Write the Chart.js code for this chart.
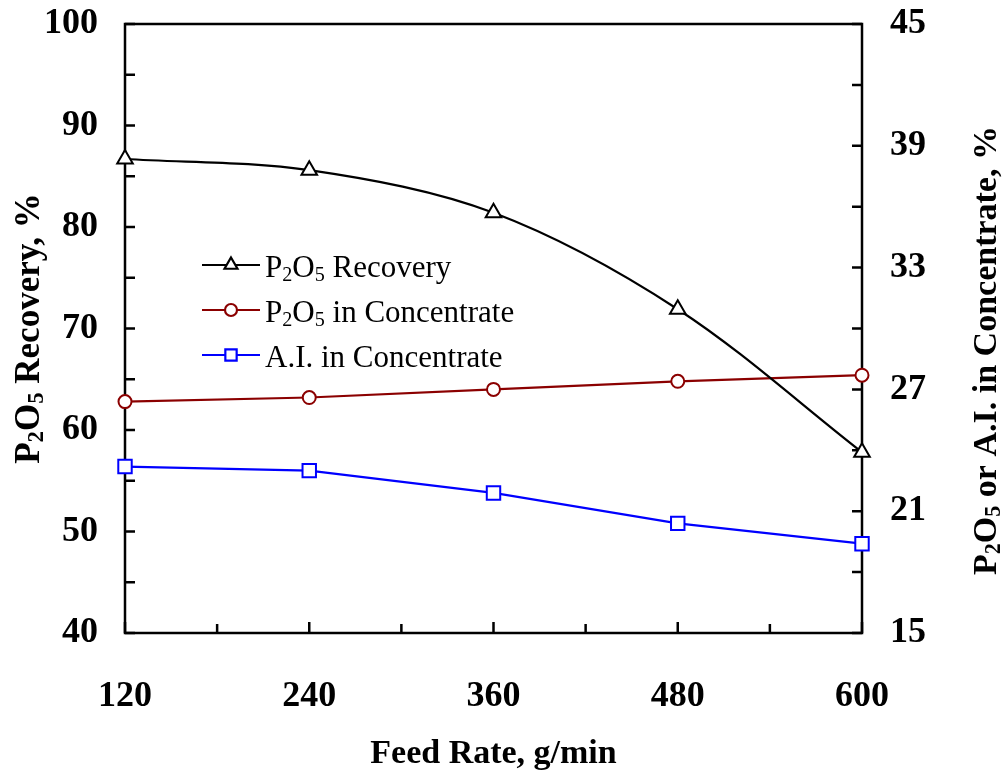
<!DOCTYPE html>
<html>
<head>
<meta charset="utf-8">
<script src="https://cdn.jsdelivr.net/npm/chart.js@4.4.1/dist/chart.umd.min.js"></script>
<style>
  html, body { margin: 0; padding: 0; background: #ffffff; }
  canvas { display: block; }
</style>
</head>
<body>
<canvas id="chart" width="1004" height="772"></canvas>
<script>
// feed rate, g/min
const feedRates = [120, 240, 360, 480, 600];
// left axis: P2O5 recovery, %
const recovery = [86.7, 85.6, 81.4, 71.9, 57.8];
// right axis: grades in concentrate, %
const p2o5Conc = [26.4, 26.6, 27.0, 27.4, 27.7];
const aiConc = [23.2, 23.0, 21.9, 20.4, 19.4];

// "_x" means x is a subscript
const seriesLabels = ['P_2O_5 Recovery', 'P_2O_5 in Concentrate', 'A.I. in Concentrate'];
const xTitle = 'Feed Rate, g/min';
const yTitle = 'P_2O_5 Recovery, %';
const y2Title = 'P_2O_5 or A.I. in Concentrate, %';

const FONT = '"Liberation Serif", "Times New Roman", serif';

function toPoints(values) {
    return feedRates.map((x, i) => ({ x: x, y: values[i] }));
}

function richParts(str) {
    const parts = [];
    let buf = '';
    for (let i = 0; i < str.length; i++) {
        if (str[i] === '_') {
            if (buf) parts.push({ t: buf, sub: false });
            buf = '';
            parts.push({ t: str[i + 1], sub: true });
            i++;
        } else {
            buf += str[i];
        }
    }
    if (buf) parts.push({ t: buf, sub: false });
    return parts;
}

// draws text with subscripts, baseline at y
function drawRich(ctx, str, x, y, size, weight, align) {
    const parts = richParts(str);
    let total = 0;
    parts.forEach(p => {
        ctx.font = `${weight} ${p.sub ? size * 0.65 : size}px ${FONT}`;
        p.w = ctx.measureText(p.t).width;
        total += p.w;
    });
    let cx = align === 'center' ? x - total / 2 : x;
    ctx.textBaseline = 'alphabetic';
    ctx.textAlign = 'left';
    parts.forEach(p => {
        ctx.font = `${weight} ${p.sub ? size * 0.65 : size}px ${FONT}`;
        ctx.fillText(p.t, cx, p.sub ? y + size * 0.12 : y);
        cx += p.w;
    });
}

const frame = {
    id: 'frame',
    beforeDatasetsDraw(chart) {
        const ctx = chart.ctx;
        const a = chart.chartArea;
        const sx = chart.scales.x, sy = chart.scales.y, sy2 = chart.scales.y2;
        ctx.save();
        ctx.strokeStyle = '#000';
        ctx.lineWidth = 2.5;
        ctx.strokeRect(a.left, a.top, a.right - a.left, a.bottom - a.top);
        ctx.beginPath();
        for (let v = 40; v <= 100; v += 5) {
            const py = sy.getPixelForValue(v);
            ctx.moveTo(a.left, py); ctx.lineTo(a.left + 10, py);
        }
        for (let v = 15; v <= 45; v += 3) {
            const py = sy2.getPixelForValue(v);
            ctx.moveTo(a.right, py); ctx.lineTo(a.right - 10, py);
        }
        for (let v = 120; v <= 600; v += 60) {
            const px = sx.getPixelForValue(v);
            const len = (v % 120 === 0) ? 11 : 9;
            ctx.moveTo(px, a.bottom); ctx.lineTo(px, a.bottom - len);
        }
        ctx.stroke();
        ctx.restore();
    },
    afterDraw(chart) {
        const ctx = chart.ctx;
        const a = chart.chartArea;
        ctx.save();
        ctx.fillStyle = '#000';

        // axis titles
        drawRich(ctx, xTitle, (a.left + a.right) / 2, 763, 34, 'bold', 'center');

        ctx.save();
        ctx.translate(39, (a.top + a.bottom) / 2);
        ctx.rotate(-Math.PI / 2);
        drawRich(ctx, yTitle, 0, 0, 35, 'bold', 'center');
        ctx.restore();

        ctx.save();
        ctx.translate(996, (a.top + a.bottom) / 2 + 22);
        ctx.rotate(-Math.PI / 2);
        drawRich(ctx, y2Title, 0, 0, 34, 'bold', 'center');
        ctx.restore();

        // legend
        const rows = [265, 310, 355];
        chart.data.datasets.forEach((ds, i) => {
            const y = rows[i];
            ctx.strokeStyle = ds.borderColor;
            ctx.lineWidth = 2.2;
            ctx.beginPath();
            ctx.moveTo(202, y); ctx.lineTo(260, y);
            ctx.stroke();
            ctx.fillStyle = '#fff';
            Chart.helpers.drawPoint(ctx, {
                pointStyle: ds.pointStyle,
                radius: ds.pointStyle === 'rect' ? 8 : (ds.pointStyle === 'triangle' ? 7.5 : 6),
                rotation: 0,
                borderWidth: 2
            }, 231, y);
            ctx.fillStyle = '#000';
            drawRich(ctx, seriesLabels[i], 265, y + 12, 31, 'normal', 'left');
        });
        ctx.restore();
    }
};

const tickFont = { family: FONT, size: 36, weight: 'bold' };

function fitY(width) {
    return (s) => { s.width = width; s.paddingTop = 0; s.paddingBottom = 0; };
}

new Chart(document.getElementById('chart').getContext('2d'), {
    type: 'line',
    data: {
        datasets: [{
            label: 'P2O5 Recovery',
            data: toPoints(recovery),
            yAxisID: 'y',
            borderColor: '#000000',
            borderWidth: 2.2,
            pointStyle: 'triangle',
            pointRadius: 9,
            pointBorderWidth: 2,
            pointBackgroundColor: '#ffffff',
            pointBorderColor: '#000000',
            tension: 0.33,
            clip: false
        }, {
            label: 'P2O5 in Concentrate',
            data: toPoints(p2o5Conc),
            yAxisID: 'y2',
            borderColor: '#8B0000',
            borderWidth: 2.2,
            pointStyle: 'circle',
            pointRadius: 6.5,
            pointBorderWidth: 2,
            pointBackgroundColor: '#ffffff',
            pointBorderColor: '#8B0000',
            tension: 0,
            clip: false
        }, {
            label: 'A.I. in Concentrate',
            data: toPoints(aiConc),
            yAxisID: 'y2',
            borderColor: '#0000FF',
            borderWidth: 2.2,
            pointStyle: 'rect',
            pointRadius: 9.5,
            pointBorderWidth: 2,
            pointBackgroundColor: '#ffffff',
            pointBorderColor: '#0000FF',
            tension: 0,
            clip: false
        }]
    },
    options: {
        responsive: false,
        animation: false,
        devicePixelRatio: 1,
        layout: { padding: { top: 24, left: 0, right: 0, bottom: 0 } },
        plugins: {
            legend: { display: false },
            tooltip: { enabled: false }
        },
        scales: {
            x: {
                type: 'linear',
                min: 120,
                max: 600,
                grid: { display: false },
                border: { display: false },
                ticks: { stepSize: 120, color: '#000', font: tickFont, padding: 34, maxRotation: 0 },
                afterFit: (s) => { s.height = 139; s.paddingLeft = 0; s.paddingRight = 0; }
            },
            y: {
                position: 'left',
                min: 40,
                max: 100,
                grid: { display: false },
                border: { display: false },
                ticks: { stepSize: 10, color: '#000', font: tickFont, padding: 19 },
                afterFit: fitY(125)
            },
            y2: {
                position: 'right',
                min: 15,
                max: 45,
                grid: { display: false },
                border: { display: false },
                ticks: { stepSize: 6, color: '#000', font: tickFont, padding: 20 },
                afterFit: fitY(142)
            }
        }
    },
    plugins: [frame]
});
</script>
</body>
</html>
